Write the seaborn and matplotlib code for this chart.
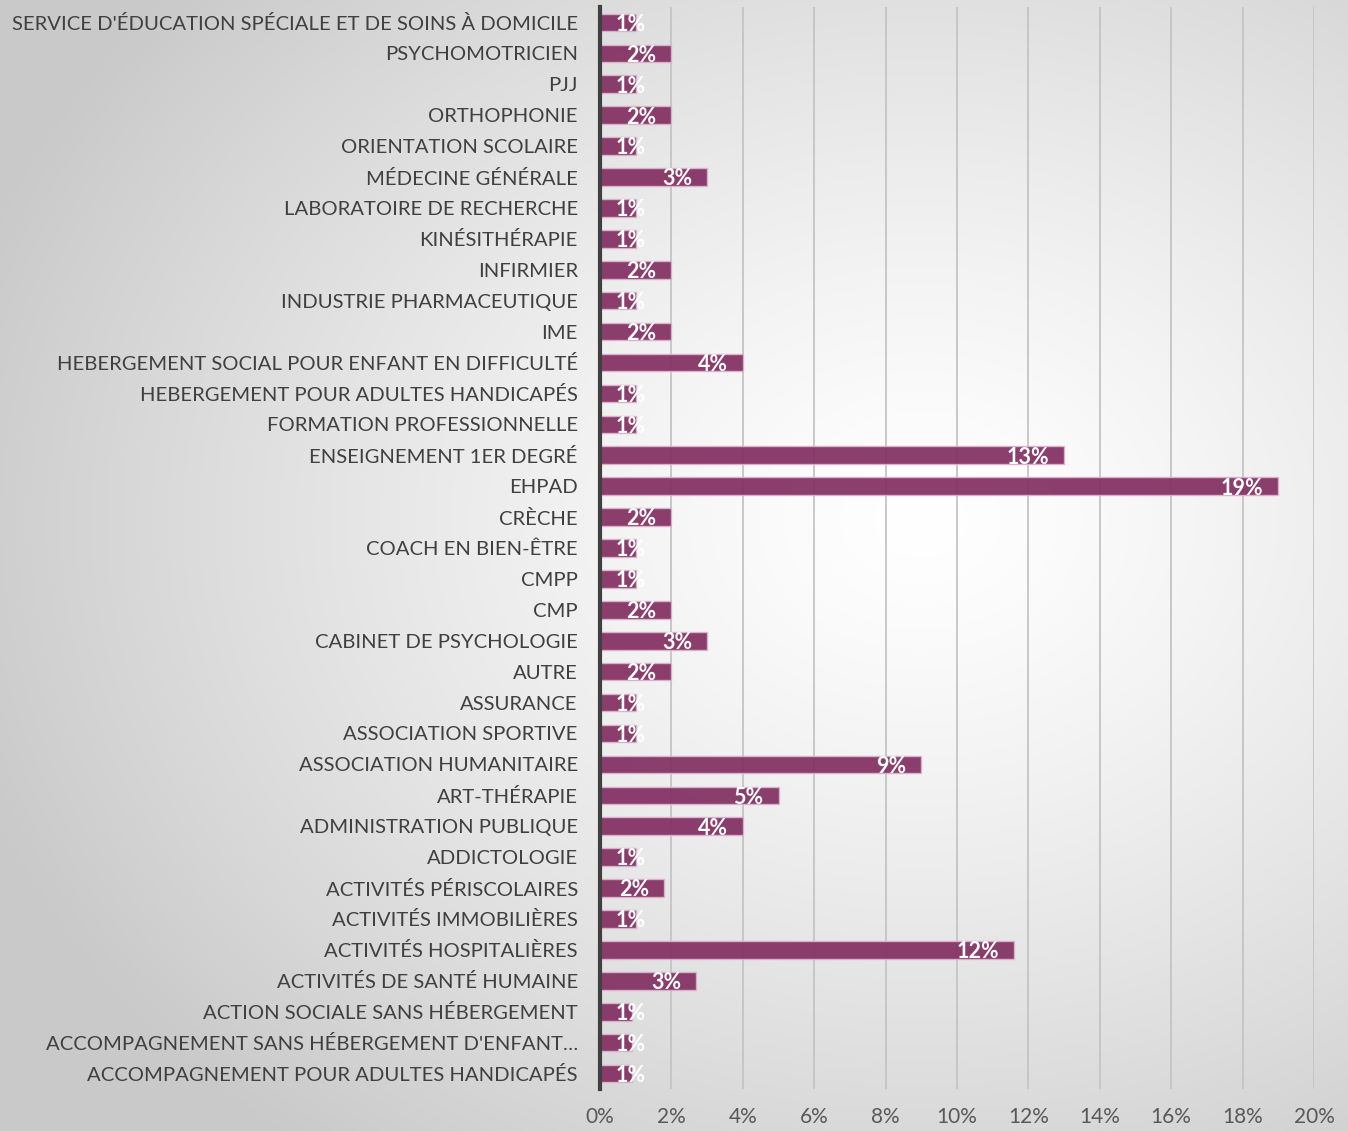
import numpy as np
import pandas as pd
import matplotlib
matplotlib.use("Agg")
import matplotlib.pyplot as plt
import seaborn as sns

categories = [
    "SERVICE D'ÉDUCATION SPÉCIALE ET DE SOINS À DOMICILE",
    "PSYCHOMOTRICIEN",
    "PJJ",
    "ORTHOPHONIE",
    "ORIENTATION SCOLAIRE",
    "MÉDECINE GÉNÉRALE",
    "LABORATOIRE DE RECHERCHE",
    "KINÉSITHÉRAPIE",
    "INFIRMIER",
    "INDUSTRIE PHARMACEUTIQUE",
    "IME",
    "HEBERGEMENT SOCIAL POUR ENFANT EN DIFFICULTÉ",
    "HEBERGEMENT POUR ADULTES HANDICAPÉS",
    "FORMATION PROFESSIONNELLE",
    "ENSEIGNEMENT 1ER DEGRÉ",
    "EHPAD",
    "CRÈCHE",
    "COACH EN BIEN-ÊTRE",
    "CMPP",
    "CMP",
    "CABINET DE PSYCHOLOGIE",
    "AUTRE",
    "ASSURANCE",
    "ASSOCIATION SPORTIVE",
    "ASSOCIATION HUMANITAIRE",
    "ART-THÉRAPIE",
    "ADMINISTRATION PUBLIQUE",
    "ADDICTOLOGIE",
    "ACTIVITÉS PÉRISCOLAIRES",
    "ACTIVITÉS IMMOBILIÈRES",
    "ACTIVITÉS HOSPITALIÈRES",
    "ACTIVITÉS DE SANTÉ HUMAINE",
    "ACTION SOCIALE SANS HÉBERGEMENT",
    "ACCOMPAGNEMENT SANS HÉBERGEMENT D'ENFANT…",
    "ACCOMPAGNEMENT POUR ADULTES HANDICAPÉS",
]
values = [1.0, 2.0, 1.0, 2.0, 1.0, 3.0, 1.0, 1.0, 2.0, 1.0, 2.0, 4.0, 1.0, 1.0,
          13.0, 19.0, 2.0, 1.0, 1.0, 2.0, 3.0, 2.0, 1.0, 1.0, 9.0, 5.0, 4.0,
          1.0, 1.8, 1.0, 11.6, 2.7, 0.9, 0.9, 0.9]
x_ticks = [0, 2, 4, 6, 8, 10, 12, 14, 16, 18, 20]

df = pd.DataFrame({"cat": categories, "val": values})

sns.set_theme(style="white")
plt.rcParams["font.family"] = ["Lato", "DejaVu Sans"]

W, H = 1348, 1131
fig = plt.figure(figsize=(W / 100, H / 100), dpi=100)

# radial gradient background
bg = fig.add_axes([0, 0, 1, 1], zorder=-10)
yy, xx = np.mgrid[0:H, 0:W]
cx, cy = 920, 520
r = np.sqrt(((xx - cx) / 1000.0) ** 2 + ((yy - cy) / 800.0) ** 2)
r = np.clip(r / 1.0, 0, 1)
shade = 1.0 - 0.21 * r ** 1.3
img = np.dstack([shade, shade, shade])
bg.imshow(img, aspect="auto", extent=[0, 1, 0, 1], origin="upper")
bg.axis("off")

ax = fig.add_axes([600 / W, 1 - 1089 / H, 714 / W, (1089 - 7) / H])
ax.set_facecolor("none")

sns.barplot(data=df, x="val", y="cat", orient="h", color="#833062",
            saturation=1, alpha=0.93, width=0.57, edgecolor="#dcb3cc",
            linewidth=1.0, ax=ax, zorder=3)

ax.set_xlim(0, 20)
ax.set_ylim(len(categories) - 0.5, -0.5)
ax.set_xticks(x_ticks)
ax.set_xticklabels([f"{t}%" for t in x_ticks], fontsize=15, color="#595959")
ax.tick_params(axis="x", length=0, pad=13)
ax.tick_params(axis="y", length=0, pad=16, labelsize=14.6, labelcolor="#404040")
ax.set_xlabel("")
ax.set_ylabel("")
for t in ax.get_yticklabels():
    t.set_color("#404040")

ax.grid(axis="x", color="#c4c4c4", linewidth=1.3, zorder=0)
ax.set_axisbelow(True)
for s in ["top", "right", "bottom"]:
    ax.spines[s].set_visible(False)
ax.spines["left"].set_color("#404040")
ax.spines["left"].set_linewidth(3)
ax.spines["left"].set_zorder(5)

for i, v in enumerate(values):
    lbl = f"{round(v):.0f}%"
    if v < 1.5:
        ax.text(0.45, i + 0.06, lbl, ha="left", va="center", color="white",
                fontsize=15.5, fontweight="bold", zorder=6)
    else:
        ax.text(v - 0.42, i + 0.06, lbl, ha="right", va="center", color="white",
                fontsize=15.5, fontweight="bold", zorder=6)

fig.savefig("out.png", dpi=100)
